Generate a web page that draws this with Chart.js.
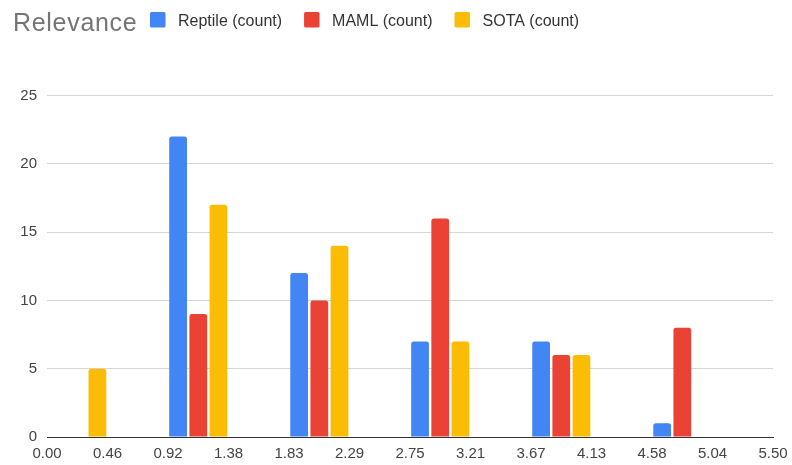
<!DOCTYPE html>
<html>
<head>
<meta charset="utf-8">
<title>Relevance</title>
<script src="https://cdn.jsdelivr.net/npm/chart.js@4/dist/chart.umd.min.js"></script>
<style>
  html, body { margin: 0; padding: 0; background: #ffffff; }
  #wrap { width: 792px; height: 465px; }
</style>
</head>
<body>
<div id="wrap"><canvas id="chart" width="792" height="465"></canvas></div>
<script>
// Histogram bins: centre of each bucket on the relevance axis
const binCenters = [0.229, 1.146, 2.063, 2.979, 3.896, 4.813];

// Counts per bucket
const reptileCounts = [0, 22, 12, 7, 7, 1];
const mamlCounts    = [0, 9, 10, 16, 6, 8];
const sotaCounts    = [5, 17, 14, 7, 6, 0];

// Tick labels along the relevance axis
const xTickLabels = ['0.00', '0.46', '0.92', '1.38', '1.83', '2.29', '2.75',
                     '3.21', '3.67', '4.13', '4.58', '5.04', '5.50'];
const xMin = 0, xMax = 5.5;
const yTicks = [0, 5, 10, 15, 20, 25];

const seriesNames = ['Reptile (count)', 'MAML (count)', 'SOTA (count)'];
const seriesColors = ['#4285F4', '#EA4335', '#FBBC04'];
const chartTitle = 'Relevance';

const FONT = '"Liberation Sans", Arial, sans-serif';

function toPoints(values) {
  return values.map((v, i) => ({ x: binCenters[i], y: v }));
}

// Title and legend share one row above the plot
const headerPlugin = {
  id: 'header',
  afterDraw(chart) {
    const ctx = chart.ctx;
    ctx.save();
    ctx.textBaseline = 'alphabetic';
    ctx.textAlign = 'left';
    ctx.fillStyle = '#757575';
    ctx.font = '25px ' + FONT;
    if ('letterSpacing' in ctx) ctx.letterSpacing = '0.7px';
    ctx.fillText(chartTitle, 13, 30.5);
    if ('letterSpacing' in ctx) ctx.letterSpacing = '0px';

    ctx.font = '16px ' + FONT;
    let x = 150;
    chart.data.datasets.forEach(ds => {
      ctx.fillStyle = ds.backgroundColor;
      ctx.beginPath();
      ctx.roundRect(x, 12, 15.5, 15.5, 1.5);
      ctx.fill();
      ctx.fillStyle = '#333333';
      ctx.fillText(ds.label, x + 28, 26);
      x += 28 + ctx.measureText(ds.label).width + 22;
    });
    ctx.restore();
  }
};

new Chart(document.getElementById('chart'), {
  type: 'bar',
  data: {
    datasets: [
      { label: seriesNames[0], data: toPoints(reptileCounts), backgroundColor: seriesColors[0] },
      { label: seriesNames[1], data: toPoints(mamlCounts),    backgroundColor: seriesColors[1] },
      { label: seriesNames[2], data: toPoints(sotaCounts),    backgroundColor: seriesColors[2] }
    ]
  },
  options: {
    responsive: false,
    animation: false,
    devicePixelRatio: 1,
    categoryPercentage: 1.0,
    barPercentage: 0.88,
    datasets: {
      bar: {
        borderRadius: { topLeft: 2.5, topRight: 2.5, bottomLeft: 0, bottomRight: 0 },
        borderSkipped: 'bottom'
      }
    },
    layout: { padding: { top: 95.5, right: 19, bottom: 0, left: 0 } },
    plugins: {
      legend: { display: false },
      title: { display: false },
      tooltip: { enabled: false }
    },
    scales: {
      x: {
        type: 'linear',
        min: xMin,
        max: xMax,
        offset: false,
        afterBuildTicks(scale) {
          scale.ticks = xTickLabels.map((_, i) => ({ value: xMin + i * (xMax - xMin) / (xTickLabels.length - 1) }));
        },
        afterFit(scale) {
          scale.height = 28;
          scale.paddingLeft = 0;
          scale.paddingRight = 0;
        },
        grid: { display: false, drawTicks: false },
        border: { display: true, color: '#333333', width: 1 },
        ticks: {
          autoSkip: false,
          maxRotation: 0,
          padding: 8,
          color: '#444444',
          font: { family: FONT, size: 15 },
          callback: (value, index) => xTickLabels[index]
        }
      },
      y: {
        min: yTicks[0],
        max: yTicks[yTicks.length - 1],
        afterBuildTicks(scale) {
          scale.ticks = yTicks.map(v => ({ value: v }));
        },
        afterFit(scale) { scale.width = 47; },
        grid: {
          drawTicks: false,
          color: ctx => (ctx.tick && ctx.tick.value === 0) ? '#333333' : '#d6d6d6',
          lineWidth: 1
        },
        border: { display: false },
        ticks: {
          padding: 10,
          color: '#444444',
          font: { family: FONT, size: 15 }
        }
      }
    }
  },
  plugins: [headerPlugin]
});
</script>
</body>
</html>
